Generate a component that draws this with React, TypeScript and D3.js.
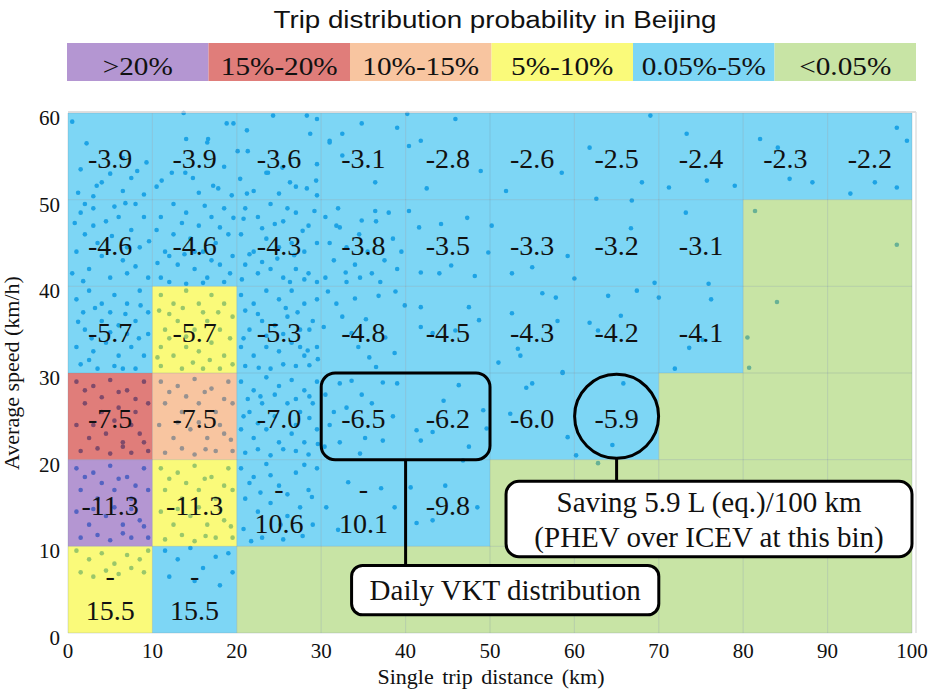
import React from 'react';
import * as d3 from 'd3';

const categories = ['>20%', '15%-20%', '10%-15%', '5%-10%', '0.05%-5%', '<0.05%'];
const categoryColors = ['#b496d2', '#e07d7a', '#f8c5a0', '#fafa7a', '#7dd6f5', '#c8e4a5'];

const distanceBins = [0, 10, 20, 30, 40, 50, 60, 70, 80, 90];
const speedBins = [50, 40, 30, 20, 10, 0]; // top row first

// probability class of each bin (index into categories), rows follow speedBins
const probClass = [
  [4, 4, 4, 4, 4, 4, 4, 4, 4, 4],
  [4, 4, 4, 4, 4, 4, 4, 4, 5, 5],
  [4, 3, 4, 4, 4, 4, 4, 4, 5, 5],
  [1, 2, 4, 4, 4, 4, 4, 5, 5, 5],
  [0, 3, 4, 4, 4, 5, 5, 5, 5, 5],
  [3, 4, 5, 5, 5, 5, 5, 5, 5, 5],
];

// fuel saving L(eq.)/100km, PHEV over ICEV
const savings = [
  [-3.9, -3.9, -3.6, -3.1, -2.8, -2.6, -2.5, -2.4, -2.3, -2.2],
  [-4.6, -4.6, -4.3, -3.8, -3.5, -3.3, -3.2, -3.1, null, null],
  [-5.7, -5.7, -5.3, -4.8, -4.5, -4.3, -4.2, -4.1, null, null],
  [-7.5, -7.5, -7.0, -6.5, -6.2, -6.0, -5.9, null, null, null],
  [-11.3, -11.3, -10.6, -10.1, -9.8, null, null, null, null, null],
  [-15.5, -15.5, null, null, null, null, null, null, null, null],
];
const wrappedLabels = ['-10.6', '-10.1', '-15.5'];

const xTicks = [0, 10, 20, 30, 40, 50, 60, 70, 80, 90, 100];
const yTicks = [0, 10, 20, 30, 40, 50, 60];

// daily trips [distance km, speed km/h]
const trips: [number, number][] = [
  [0.5, 59], [3.4, 51.6], [5, 53], [8.2, 53.3], [6.5, 54.8], [13.7, 60], [14, 57], [16.5, 56.6], [18.8, 58.8],
  [19.6, 58.8], [21.2, 58], [21.3, 55.6], [24.3, 59.7], [28.3, 59.7], [28.7, 57.6], [23.5, 53.1], [20.4, 52.4],
  [13.9, 53.1], [12.3, 53.1], [11.1, 52.2], [9.3, 54.3], [16.6, 57], [14.8, 52.5], [17.2, 51.6], [17.8, 51.3],
  [19.4, 50.5], [21.2, 50.7], [23.7, 53.1], [25.4, 53.7], [26.3, 52], [28.3, 51.3], [29.5, 50.5], [29.5, 54.1],
  [32.5, 55.1], [31, 56.8], [29.5, 59.3], [20.1, 55.6], [2.2, 56.5], [1.2, 50.8],
  [98.2, 58.3], [99.4, 56.8], [95.6, 52], [98.2, 51.4], [92.7, 50.7], [88.2, 52], [85.5, 52.4], [84.1, 56],
  [82, 57], [79, 51.6], [75.7, 52.2], [73.3, 57.6], [71.2, 51.4], [68, 52], [69, 59.7], [62.6, 50.1],
  [61.8, 56], [58.5, 53.1], [51.9, 51], [48.9, 53.3], [45.9, 59.3], [40.2, 59.9], [39, 58.3], [40.4, 56.2],
  [41.8, 56.8], [42.5, 51.3], [34.8, 58.8], [32.5, 57.6], [31, 56.6], [29.4, 52.2], [36.4, 52],
  [81.4, 48.7], [98.2, 44.8], [84, 38.2], [80.5, 34.1], [80.7, 30.6],
  [73.2, 48.5], [66.7, 46.7], [69.5, 40.4], [75.9, 40.3], [60, 40.9], [55, 42.2], [52.6, 41.5], [59.2, 43.5],
  [66.8, 49.9], [50.2, 47], [49.8, 43.9], [47.3, 47.9], [44.2, 47.2], [41.6, 46.8], [40.4, 48.7], [36.4, 48.7],
  [34.8, 47.6], [32.2, 46.8], [32.9, 41.6], [34.6, 41], [41.8, 41.6], [44, 41.5], [45.4, 42.4], [48.2, 41.2],
  [56.2, 39.2], [57.8, 38.7], [64, 38.9], [67.4, 39.5], [70, 38.7], [76.2, 38.5], [73.6, 32.9], [75.2, 33.8],
  [71.9, 30.5], [65.5, 36.6], [61.8, 35.8], [62.8, 34.9], [58, 36], [53.6, 32], [53.3, 32.8], [52.6, 36.9],
  [51, 31.2], [48.7, 36.1], [47.5, 37.6], [45.9, 34.9], [43.2, 34.6], [41.8, 35.3], [41.8, 37.6], [39.9, 37.8],
  [38.7, 32.3], [37.6, 34.1], [35.7, 31.8], [33.6, 34.6], [31.8, 38], [30.3, 35.3], [28.4, 32.6], [58.6, 30.1],
  [58.6, 30], [54.3, 28.3], [55, 28.8], [52.4, 25.3], [49.6, 23.6], [49.2, 25.7], [46.3, 28.6], [39, 28.8],
  [37.3, 28.9], [33.6, 29.1], [32.2, 28.8], [41.3, 23.4], [43.2, 23.2], [41.8, 22.2], [35.2, 22.5], [37.3, 22.2],
  [32.2, 22], [34.6, 20.7], [60.2, 20.5], [59.2, 22.6], [62.8, 19.6], [64.5, 21.7], [65.8, 28.8], [36, 26.5],
  [38.5, 25], [44.5, 26.8], [47.5, 21.5], [31.5, 25.5],
  [40.6, 16.8], [44.7, 17], [43.2, 13], [41.3, 12.7], [38.7, 14.5], [37.1, 16.7], [33.2, 17.4], [32, 11.9],
  [30.6, 14.5], [28.9, 15.7], [46.8, 19.9], [48.5, 14.5],
  [1.5, 48.5], [3, 49], [4.5, 47.5], [2, 46], [6, 48], [7.5, 46.5], [9, 48], [8.5, 44.5], [6.5, 43], [4, 43.5],
  [2.5, 42], [5, 41], [7, 41.5], [9.5, 41], [1, 44], [0.5, 41.5], [3.5, 45], [8, 49.5],
  [11, 48], [12.5, 49.5], [14, 48.5], [15.5, 47], [17, 48], [18.5, 49], [19, 46], [17.5, 45], [16, 44],
  [14.5, 45.5], [12.5, 46], [11.5, 44], [13, 42.5], [15, 42], [16.5, 41], [18, 42.5], [19.5, 43.5], [11, 41],
  [12, 40.5], [14, 40.3], [18.5, 40.5],
  [21, 49], [22.5, 48], [24, 49.5], [25.5, 47.5], [27, 48.5], [28.5, 47], [29.5, 45], [28, 44], [26.5, 45],
  [25, 44.5], [23.5, 45.5], [22, 44], [21, 42.5], [22.5, 41.5], [24, 42], [25.5, 41], [27, 42], [28.5, 41.5],
  [29.5, 40.5], [20.5, 46],
  [30.5, 48], [31, 45], [31.5, 43], [33, 44.5], [34, 42.5], [35.5, 44], [36, 41.5], [37.5, 43], [38.5, 45.5],
  [39, 42], [30.5, 41], [33, 40.5], [37, 40.5],
  [1, 38.5], [2.5, 39.5], [4, 38], [5.5, 39], [7, 38], [8.5, 39.5], [9.5, 37], [8, 36], [6, 35.5], [4, 36],
  [2, 35], [1, 33], [3, 32.5], [4.5, 33.5], [6, 32], [7.5, 33], [9, 32], [9.5, 34.5], [1.5, 31], [3.5, 30.5],
  [5.5, 30.8], [8, 30.5],
  [11, 39], [12.5, 38], [14, 39.5], [15.5, 38], [17, 39], [18.5, 38], [19.5, 36.5], [18, 35], [16.5, 36],
  [15, 35], [13, 36], [11.5, 35], [11, 33], [12.5, 32], [14, 33], [15.5, 32.5], [17, 33.5], [18.5, 32],
  [19.5, 31], [16, 30.5], [13.5, 30.5], [11, 30.8],
  [20.5, 39], [22, 38], [23.5, 39.5], [25, 38.5], [26.5, 39.5], [28, 38], [29.5, 38.5], [29, 36], [27.5, 35],
  [26, 36.5], [24.5, 35.5], [23, 36], [21.5, 35], [20.5, 33], [22, 32], [23.5, 33], [25, 32.5], [26.5, 33.5],
  [28, 32], [29.5, 33], [21, 30.8], [24, 30.5], [27, 30.8],
  [1, 29], [3, 28.5], [5, 29.2], [7, 28], [9, 29], [9.5, 26.5], [8, 25.5], [6, 26], [4, 25.5], [2, 26.5],
  [1, 24], [2.5, 22.5], [4.5, 23], [6.5, 22], [8.5, 23], [9.5, 21], [1.5, 21], [5, 20.7], [7.5, 20.8],
  [11, 29], [13, 28.5], [15, 29.3], [17, 28.2], [19, 29], [19.5, 26.5], [17.5, 25.5], [15.5, 26.5], [13.5, 25.5],
  [11.5, 26.5], [10.8, 24], [12.5, 22.5], [14.5, 23.5], [16.5, 22.5], [18.5, 23], [19.5, 21], [11.5, 20.8],
  [15, 20.6], [17.5, 21],
  [20.5, 29], [22, 28], [23.5, 29.5], [25, 28.5], [26.5, 29.2], [28, 28], [29.5, 29], [29, 26.5], [27.5, 25.5],
  [26, 26.5], [24.5, 25], [23, 26.5], [21.5, 25.5], [20.5, 23.5], [22, 22.5], [23.5, 23.5], [25, 22],
  [26.5, 23], [28, 22], [29.5, 23.5], [21, 20.8], [24, 20.5], [27, 21],
  [1, 19], [3, 18.5], [5, 19.3], [7, 18], [9, 19], [9.5, 16.5], [7.5, 15.5], [5.5, 16.5], [3.5, 15.5],
  [1.5, 16.5], [1, 14], [2.5, 12.5], [4.5, 13.5], [6.5, 12.5], [8.5, 13], [9.5, 11], [1.5, 11], [5, 10.7],
  [7.5, 11],
  [11, 19], [13, 18.5], [15, 19.3], [17, 18], [19, 19], [19.5, 16.5], [17.5, 15.5], [15.5, 16.5], [13.5, 15.5],
  [11.5, 16.5], [11, 14], [12.5, 12.5], [14.5, 13.5], [16.5, 12.5], [18.5, 13], [19.5, 11], [11.5, 10.8],
  [15, 10.6], [17.5, 11],
  [20.5, 19], [22, 18], [23.5, 19.5], [25, 17], [27, 18.5], [28.5, 16.5], [29.5, 19], [21, 15.5], [22.5, 14],
  [24, 15], [26, 13.5], [27.5, 14.5], [29, 12.5], [20.8, 12], [23, 11], [25.5, 10.8],
  [1, 9.5], [2.5, 8.5], [4, 9.2], [5.5, 8], [7, 9], [8.5, 8.5], [9.5, 9.5], [1.5, 7], [3, 6.5], [4.5, 7.2],
  [6, 6.8], [7.5, 7.5], [9, 7],
  [11.5, 9.5], [13, 8.5], [14.5, 9.8], [16, 7.5], [17.5, 8.8], [19, 9.2], [12, 6.5], [15, 6], [18, 5.5],
  [19.5, 7],
  // second pass over the dense area
  [2, 49.5], [5.5, 49.2], [7, 44.5], [3, 47], [5.2, 45.8], [8, 42.3], [1.8, 40.6], [9.6, 45.2], [0.8, 47.3],
  [6.8, 49.6], [10.5, 46.5], [13.5, 47.3], [16.2, 49.3], [18, 46.8], [19.6, 47.9], [15, 44], [13.8, 43.7],
  [17, 43], [12, 43.5], [10.6, 42.7], [16, 40.4], [19.2, 41.5], [20.8, 47.8], [23, 46.7], [24.5, 47.2],
  [26, 49], [27.8, 46.4], [29.2, 48.7], [26.8, 43.6], [24.8, 43.2], [23, 42.8], [21.5, 43.7], [28, 40.8],
  [26.3, 40.5], [20.6, 40.8], [32, 49], [34.5, 46], [36.5, 47.5], [31.8, 47], [38, 48.5], [39.5, 44],
  [1.5, 53.5], [4, 52], [6.5, 51], [9, 50.6], [10.5, 51.5], [15.5, 50.8], [18.5, 53.8], [22, 51], [25, 50.7],
  [27, 51.5], [3, 50.4], [7.5, 52.5],
  [1.8, 37], [3.2, 37.5], [5, 37], [6.8, 36.8], [8.6, 37.8], [2.8, 34], [5, 34.7], [7, 34.5], [8.4, 34],
  [1.2, 35.9], [6.5, 30.5], [2.5, 31.5],
  [10.8, 37.2], [12, 36.8], [13.6, 37.5], [16, 37], [17.8, 37], [19.2, 34], [14, 34.2], [12, 34], [16.8, 31.5],
  [18, 30.5], [10.6, 31.8], [14.8, 31.2],
  [21, 37.2], [22.5, 36.8], [25.8, 37.5], [27.2, 37], [28.6, 35], [23.5, 34.3], [25.5, 34.5], [20.8, 34],
  [27.5, 33], [22.6, 30.6], [25.5, 31], [28.6, 30.9], [29.6, 31.6],
  [2, 28], [4, 27.2], [6, 27.8], [8, 27], [3, 24], [5.5, 24.5], [7.5, 24], [9, 22], [3.5, 21.3], [6.5, 21.5],
  [12, 27.8], [14, 27.3], [16.2, 27.8], [18.5, 27], [13, 24.3], [15.5, 24.3], [18, 24], [19.3, 22.3],
  [13.5, 21.3], [16.3, 21.2],
  [21.3, 27], [22.8, 27.3], [24.5, 27.5], [27, 27], [28.6, 27.3], [20.8, 25], [22.5, 24.2], [27, 24],
  [28.6, 24.8], [22.5, 21.2], [25.5, 21.2], [28.5, 20.6], [29.6, 21.8],
  [2, 18], [4, 17.3], [6, 17.8], [8, 17], [3, 14.3], [5.5, 14.5], [7.5, 14.3], [9, 12.3], [3.5, 11.3],
  [6.5, 11.5],
  [12, 17.8], [14, 17.3], [16.2, 17.8], [18.5, 17], [13, 14.3], [15.5, 14.5], [18, 14.3], [19.3, 12.3],
  [13.5, 11.3], [16.3, 11.2],
  [21.5, 17.3], [24, 18.2], [26, 16], [22.8, 16.2], [28, 19.4], [25.2, 12.5], [27.8, 11.2], [21.7, 10.6],
  [30.5, 27.5], [31, 24], [33, 26], [34.8, 27.5], [30.4, 21.5],
  [30.8, 39.4], [32.5, 36.5], [34, 38.6], [35.3, 36.2], [36.8, 38.9], [34.4, 33], [36.5, 30.7], [38.8, 39.4],
];

const W = 935;
const H = 695;
const serif = '"Liberation Serif", "Times New Roman", serif';

// overlay alpha: cells are drawn semi transparent over the trip dots
const cellAlpha = 0.55;
const overlayColor = (hex: string) => {
  const t = d3.rgb(hex);
  const f = (v: number) => Math.max(0, Math.min(255, (v - 255 * (1 - cellAlpha)) / cellAlpha));
  return d3.rgb(f(t.r), f(t.g), f(t.b)).formatHex();
};

export default function App() {
  const x = d3.scaleLinear().domain([0, 100]).range([68, 912]);
  const y = d3.scaleLinear().domain([0, 60]).range([633, 113]);
  const legend = d3.scaleBand<string>().domain(categories).range([67, 916]);

  const cells = speedBins.flatMap((s, ri) =>
    distanceBins.map((dd, ci) => ({ d0: dd, s0: s, cls: probClass[ri][ci], v: savings[ri][ci] }))
  );

  const vktBox = { x0: 30, x1: 50, y0: 20, y1: 30 };
  const dailyLabel = { x0: 33.6, x1: 70, y0: 2.1, y1: 7.8 };
  const savingBin = { d: 65, s: 25 };
  const savingLabel = { x0: 51.9, x1: 100, y0: 8.8, y1: 17.5 };

  return (
    <div style={{ position: 'absolute', left: 0, top: 0 }}>
      <svg width={W} height={H} style={{ display: 'block', background: '#fff' }}>
        <defs>
          <filter id="soft" x="-50%" y="-50%" width="200%" height="200%">
            <feGaussianBlur stdDeviation={0.5} />
          </filter>
        </defs>

        {/* title */}
        <text
          x={495}
          y={28}
          textAnchor="middle"
          fontFamily='"Liberation Sans", Arial, sans-serif'
          fontSize={23}
          textLength={443}
          lengthAdjust="spacingAndGlyphs"
          fill="#111"
        >
          Trip distribution probability in Beijing
        </text>

        {/* legend */}
        {categories.map((c, i) => (
          <g key={c}>
            <rect x={legend(c)} y={43} width={legend.bandwidth()} height={38} fill={categoryColors[i]} />
            <text
              transform={`translate(${legend(c)! + legend.bandwidth() / 2},75) scale(1.17,1)`}
              textAnchor="middle"
              fontFamily={serif}
              fontSize={25}
              fill="#111"
            >
              {c}
            </text>
          </g>
        ))}

        {/* trip dots */}
        <g filter="url(#soft)">
          {trips.map((p, i) => (
            <circle key={i} cx={x(p[0])} cy={y(p[1])} r={2.3} fill="#2a8fdc" />
          ))}
        </g>

        {/* probability cells */}
        <g>
          {cells.map((c, i) => (
            <rect
              key={i}
              x={x(c.d0)}
              y={y(c.s0 + 10)}
              width={x(c.d0 + 10) - x(c.d0)}
              height={y(c.s0) - y(c.s0 + 10)}
              fill={overlayColor(categoryColors[c.cls])}
              fillOpacity={cellAlpha}
            />
          ))}
        </g>

        {/* grid */}
        <g stroke="#6e8c96" strokeOpacity={0.25} strokeWidth={1}>
          {xTicks.map((t) => (
            <line key={'gx' + t} x1={x(t)} x2={x(t)} y1={y(0)} y2={y(60)} />
          ))}
          {yTicks.map((t) => (
            <line key={'gy' + t} x1={x(0)} x2={x(100)} y1={y(t)} y2={y(t)} />
          ))}
        </g>
        <line x1={x(0)} x2={x(100) + 4} y1={y(60) - 1} y2={y(60) - 1} stroke="#d4d4d4" strokeWidth={1.5} />
        <line x1={x(100) + 4} x2={x(100) + 4} y1={y(60) - 1} y2={y(0)} stroke="#e0e0e0" strokeWidth={1.5} />

        {/* bin labels */}
        <g fontFamily={serif} fontSize={28} fill="#111" textAnchor="middle">
          {cells
            .filter((c) => c.v !== null)
            .map((c, i) => {
              const cx = x(c.d0 + 5);
              const cy = y(c.s0 + 5);
              const label = (c.v as number).toFixed(1);
              if (wrappedLabels.includes(label)) {
                return (
                  <g key={i}>
                    <text x={cx} y={cy - 5}>-</text>
                    <text x={cx} y={cy + 30}>{label.slice(1)}</text>
                  </g>
                );
              }
              return (
                <text key={i} x={cx} y={cy + 12}>
                  {label}
                </text>
              );
            })}
        </g>

        {/* axes tick labels */}
        <g fontFamily={serif} fontSize={21} fill="#111">
          {xTicks.map((t) => (
            <text key={'xt' + t} x={x(t)} y={658} textAnchor="middle">
              {t}
            </text>
          ))}
          {yTicks.map((t) => (
            <text key={'yt' + t} x={60} y={y(t) + 12} textAnchor="end">
              {t}
            </text>
          ))}
        </g>
        <text x={491} y={684} textAnchor="middle" fontFamily={serif} fontSize={22} wordSpacing={3} fill="#111">
          Single trip distance (km)
        </text>
        <text
          transform={`translate(19,${y(30)}) rotate(-90)`}
          textAnchor="middle"
          fontFamily={serif}
          fontSize={22}
          fill="#111"
        >
          Average speed (km/h)
        </text>

        {/* annotations */}
        <g fill="none" stroke="#000" strokeWidth={3}>
          <rect
            x={x(vktBox.x0)}
            y={y(vktBox.y1)}
            width={x(vktBox.x1) - x(vktBox.x0)}
            height={y(vktBox.y0) - y(vktBox.y1)}
            rx={14}
          />
          <line x1={x(40)} x2={x(40)} y1={y(vktBox.y0)} y2={y(dailyLabel.y1)} />
          <circle cx={x(savingBin.d)} cy={y(savingBin.s)} r={42} />
          <line x1={x(savingBin.d)} x2={x(savingBin.d)} y1={y(savingBin.s) + 42} y2={y(savingLabel.y1)} />
        </g>
        <rect
          x={x(dailyLabel.x0)}
          y={y(dailyLabel.y1)}
          width={x(dailyLabel.x1) - x(dailyLabel.x0)}
          height={y(dailyLabel.y0) - y(dailyLabel.y1)}
          rx={11}
          fill="#fff"
          stroke="#000"
          strokeWidth={3}
        />
        <text
          x={(x(dailyLabel.x0) + x(dailyLabel.x1)) / 2}
          y={y(dailyLabel.y1) + 35}
          textAnchor="middle"
          fontFamily={serif}
          fontSize={29}
          fill="#111"
        >
          Daily VKT distribution
        </text>
        <rect
          x={x(savingLabel.x0)}
          y={y(savingLabel.y1)}
          width={x(savingLabel.x1) - x(savingLabel.x0)}
          height={y(savingLabel.y0) - y(savingLabel.y1)}
          rx={13}
          fill="#fff"
          stroke="#000"
          strokeWidth={3}
        />
        <g fontFamily={serif} fontSize={29} fill="#111" textAnchor="middle">
          <text x={(x(savingLabel.x0) + x(savingLabel.x1)) / 2} y={y(savingLabel.y1) + 31}>
            Saving 5.9 L (eq.)/100 km
          </text>
          <text x={(x(savingLabel.x0) + x(savingLabel.x1)) / 2} y={y(savingLabel.y1) + 66}>
            (PHEV over ICEV at this bin)
          </text>
        </g>
      </svg>
    </div>
  );
}
